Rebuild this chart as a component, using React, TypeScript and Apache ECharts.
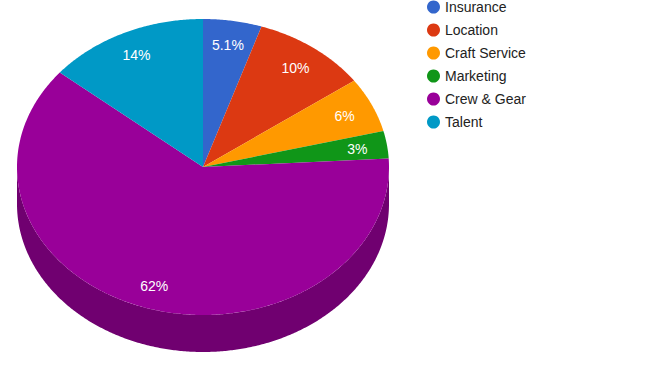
import React, { useEffect, useRef } from "react";
import * as echarts from "echarts";

const categories = ["Insurance", "Location", "Craft Service", "Marketing", "Crew & Gear", "Talent"];
const values = [5.1, 10, 6, 3, 62, 14];
const sliceLabels = ["5.1%", "10%", "6%", "3%", "62%", "14%"];

const palette = ["#3366cc", "#dc3912", "#ff9900", "#109618", "#990099", "#0099c6"];
const FONT = '"Liberation Sans", Arial, sans-serif';

function darken(hex: string, f: number) {
  const n = parseInt(hex.slice(1), 16);
  const r = Math.round(((n >> 16) & 255) * f);
  const g = Math.round(((n >> 8) & 255) * f);
  const b = Math.round((n & 255) * f);
  return `rgb(${r},${g},${b})`;
}

const CX = 203, CY = 167, RX = 186, RY = 148, DEPTH = 37, LABEL_F = 0.84;

function pt(t: number, dy = 0): number[] {
  return [CX + RX * Math.sin(t), CY - RY * Math.cos(t) + dy];
}

function arcPoints(a: number, b: number, dy = 0): number[][] {
  const pts: number[][] = [];
  const steps = Math.max(2, Math.ceil(Math.abs(b - a) / (Math.PI / 360)));
  for (let i = 0; i <= steps; i++) pts.push(pt(a + ((b - a) * i) / steps, dy));
  return pts;
}

export default function App() {
  const ref = useRef<HTMLDivElement>(null);
  useEffect(() => {
    if (!ref.current) return;
    const chart = echarts.init(ref.current, undefined, { renderer: "svg" });
    const total = values.reduce((s, v) => s + v, 0);

    const series = categories.map((name, idx) => ({
      type: "custom",
      name,
      coordinateSystem: "none",
      itemStyle: { color: palette[idx] },
      data: [[values[idx]]],
      renderItem: (_params: any, api: any) => {
        const before = values.slice(0, idx).reduce((s, v) => s + v, 0);
        const v = api.value(0);
        const a0 = (before / total) * Math.PI * 2;
        const a1 = ((before + v) / total) * Math.PI * 2;
        const children: any[] = [];
        const s = Math.max(a0, Math.PI / 2);
        const e = Math.min(a1, (Math.PI * 3) / 2);
        if (e > s) {
          const pts = arcPoints(s, e, 0).concat(arcPoints(e, s, DEPTH));
          children.push({
            type: "polygon",
            z2: 1,
            shape: { points: pts },
            style: { fill: darken(palette[idx], 0.73) },
          });
        }
        const top = [[CX, CY]].concat(arcPoints(a0, a1, 0));
        children.push({
          type: "polygon",
          z2: 2,
          shape: { points: top },
          style: { fill: palette[idx] },
        });
        const mid = (a0 + a1) / 2;
        const lx = CX + RX * LABEL_F * Math.sin(mid);
        const ly = CY - RY * LABEL_F * Math.cos(mid) + 1;
        children.push({
          type: "text",
          z2: 3,
          style: {
            text: sliceLabels[idx],
            x: lx,
            y: ly,
            fill: "#ffffff",
            fontSize: 14,
            fontFamily: FONT,
            align: "center",
            verticalAlign: "middle",
            textAlign: "center",
            textVerticalAlign: "middle",
          },
        });
        return { type: "group", children };
      },
    }));

    chart.setOption({
      animation: false,
      legend: {
        orient: "vertical",
        left: 427,
        top: 0,
        padding: 0,
        icon: "circle",
        itemWidth: 13,
        itemHeight: 13,
        itemGap: 9,
        selectedMode: false,
        data: categories,
        textStyle: { color: "#222222", fontSize: 14, fontFamily: FONT, lineHeight: 14 },
      },
      series,
    });
    return () => chart.dispose();
  }, []);
  return (
    <div
      ref={ref}
      style={{ position: "fixed", left: 0, top: 0, width: 657, height: 371, background: "#ffffff" }}
    />
  );
}
